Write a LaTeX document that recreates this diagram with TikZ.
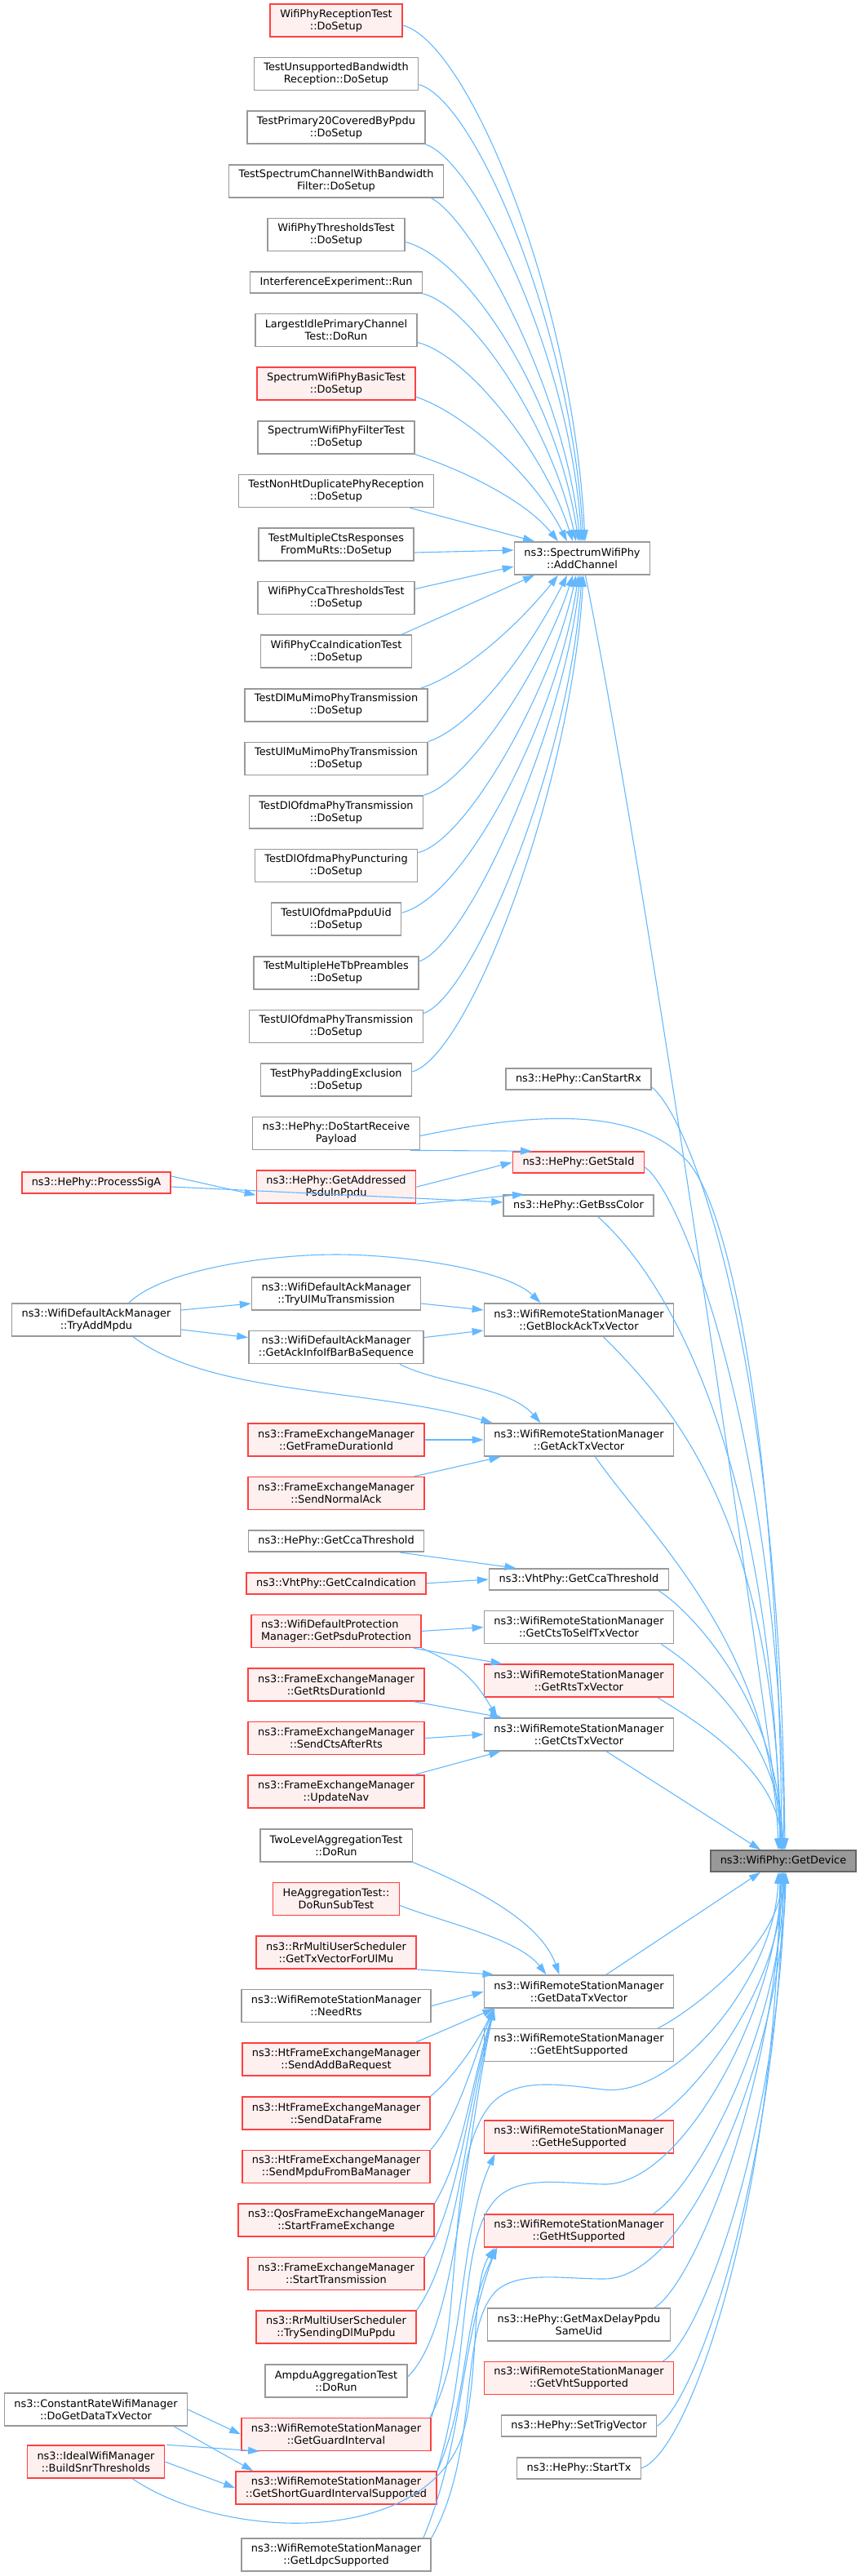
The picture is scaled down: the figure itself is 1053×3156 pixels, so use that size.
\documentclass[tikz,border=0pt]{standalone}
\usepackage{fontspec}
\setmainfont{DejaVu Sans}
\usepackage{tikz}
\usetikzlibrary{positioning}
\usetikzlibrary{arrows.meta}
\definecolor{callblue}{HTML}{63B8FF}
\definecolor{truncred}{HTML}{FF4040}
\definecolor{truncfill}{HTML}{FFF0F0}
\definecolor{boxgray}{HTML}{999999}
\definecolor{focusfill}{HTML}{999999}
\definecolor{focusline}{HTML}{666666}
\tikzstyle{fn} = [draw=boxgray, fill=white, rectangle, line width=1.6pt, align=center, inner xsep=12pt, inner ysep=2pt, minimum height=40pt, font=\fontsize{12.9pt}{15pt}\selectfont]
\tikzstyle{fnone} = [fn, minimum height=26pt]
\tikzstyle{fnred} = [fn, draw=truncred, fill=truncfill]
\tikzstyle{fnredone} = [fnred, minimum height=26pt]
\tikzstyle{fnfocus} = [fnone, draw=focusline, fill=focusfill]
\tikzstyle{calls} = [draw=callblue, line width=1.1pt, -{Triangle[length=14pt,width=9pt]}]

\begin{document}
\begin{tikzpicture}[x=1pt,y=-1pt]
    \useasboundingbox (0,0) rectangle (1053,3156);

    % tests calling AddChannel
    \node [fnred] at (412,25) (rxtest) {WifiPhyReceptionTest\\::DoSetup};
    \node [fn, below = 24pt of rxtest] (unsupbw) {TestUnsupportedBandwidth\\Reception::DoSetup};
    \node [fn, below = 24pt of unsupbw] (primary20) {TestPrimary20CoveredByPpdu\\::DoSetup};
    \node [fn, below = 24pt of primary20] (specchan) {TestSpectrumChannelWithBandwidth\\Filter::DoSetup};
    \node [fn, below = 24pt of specchan] (thresh) {WifiPhyThresholdsTest\\::DoSetup};
    \node [fnone, below = 24pt of thresh] (interf) {InterferenceExperiment::Run};
    \node [fn, below = 24pt of interf] (largest) {LargestIdlePrimaryChannel\\Test::DoRun};
    \node [fnred, below = 24pt of largest] (specbasic) {SpectrumWifiPhyBasicTest\\::DoSetup};
    \node [fn, below = 24pt of specbasic] (specfilter) {SpectrumWifiPhyFilterTest\\::DoSetup};
    \node [fn, below = 24pt of specfilter] (nonht) {TestNonHtDuplicatePhyReception\\::DoSetup};
    \node [fn, below = 24pt of nonht] (multicts) {TestMultipleCtsResponses\\FromMuRts::DoSetup};
    \node [fn, below = 24pt of multicts] (ccathresh) {WifiPhyCcaThresholdsTest\\::DoSetup};
    \node [fn, below = 24pt of ccathresh] (ccaind) {WifiPhyCcaIndicationTest\\::DoSetup};
    \node [fn, below = 24pt of ccaind] (dlmumimo) {TestDlMuMimoPhyTransmission\\::DoSetup};
    \node [fn, below = 24pt of dlmumimo] (ulmumimo) {TestUlMuMimoPhyTransmission\\::DoSetup};
    \node [fn, below = 24pt of ulmumimo] (dlofdmatx) {TestDlOfdmaPhyTransmission\\::DoSetup};
    \node [fn, below = 24pt of dlofdmatx] (dlpunct) {TestDlOfdmaPhyPuncturing\\::DoSetup};
    \node [fn, below = 24pt of dlpunct] (ppduuid) {TestUlOfdmaPpduUid\\::DoSetup};
    \node [fn, below = 24pt of ppduuid] (multihetb) {TestMultipleHeTbPreambles\\::DoSetup};
    \node [fn, below = 24pt of multihetb] (ulofdmatx) {TestUlOfdmaPhyTransmission\\::DoSetup};
    \node [fn, below = 24pt of ulofdmatx] (padding) {TestPhyPaddingExclusion\\::DoSetup};
    \node [fn, below = 24pt of padding] (dostartrx) {ns3::HePhy::DoStartReceive\\Payload};
    \node [fnred, below = 24pt of dostartrx] (getaddr) {ns3::HePhy::GetAddressed\\PsduInPpdu};

    \node [fn] at (412,1585) (tryulmu) {ns3::WifiDefaultAckManager\\::TryUlMuTransmission};
    \node [fn, below = 24pt of tryulmu] (getackinfo) {ns3::WifiDefaultAckManager\\::GetAckInfoIfBarBaSequence};
    \node [fnred] at (412,1764) (getframedur) {ns3::FrameExchangeManager\\::GetFrameDurationId};
    \node [fnred, below = 24pt of getframedur] (sendnormalack) {ns3::FrameExchangeManager\\::SendNormalAck};
    \node [fnone, below = 24pt of sendnormalack] (heccathresh) {ns3::HePhy::GetCcaThreshold};
    \node [fnredone, below = 24pt of heccathresh] (vhtccaind) {ns3::VhtPhy::GetCcaIndication};
    \node [fnred, align=left, below = 24pt of vhtccaind] (psduprot) {ns3::WifiDefaultProtection\\Manager::GetPsduProtection};
    \node [fnred, below = 24pt of psduprot] (rtsdur) {ns3::FrameExchangeManager\\::GetRtsDurationId};
    \node [fnred, below = 24pt of rtsdur] (sendcts) {ns3::FrameExchangeManager\\::SendCtsAfterRts};
    \node [fnred, below = 24pt of sendcts] (updatenav) {ns3::FrameExchangeManager\\::UpdateNav};
    \node [fn, below = 24pt of updatenav] (twolevel) {TwoLevelAggregationTest\\::DoRun};
    \node [fnred, below = 24pt of twolevel] (heagg) {HeAggregationTest::\\DoRunSubTest};
    \node [fnred, below = 24pt of heagg] (ulmu) {ns3::RrMultiUserScheduler\\::GetTxVectorForUlMu};
    \node [fn, below = 24pt of ulmu] (needrts) {ns3::WifiRemoteStationManager\\::NeedRts};
    \node [fnred, below = 24pt of needrts] (addba) {ns3::HtFrameExchangeManager\\::SendAddBaRequest};
    \node [fnred, below = 24pt of addba] (senddata) {ns3::HtFrameExchangeManager\\::SendDataFrame};
    \node [fnred, below = 24pt of senddata] (sendmpdu) {ns3::HtFrameExchangeManager\\::SendMpduFromBaManager};
    \node [fnred, below = 24pt of sendmpdu] (startfx) {ns3::QosFrameExchangeManager\\::StartFrameExchange};
    \node [fnred, below = 24pt of startfx] (starttrans) {ns3::FrameExchangeManager\\::StartTransmission};
    \node [fnred, below = 24pt of starttrans] (trysend) {ns3::RrMultiUserScheduler\\::TrySendingDlMuPpdu};
    \node [fn, below = 24pt of trysend] (ampdu) {AmpduAggregationTest\\::DoRun};
    \node [fnred, below = 24pt of ampdu] (guardint) {ns3::WifiRemoteStationManager\\::GetGuardInterval};
    \node [fnred, below = 24pt of guardint] (shortgi) {ns3::WifiRemoteStationManager\\::GetShortGuardIntervalSupported};
    \node [fn] at (412,3130) (ldpc) {ns3::WifiRemoteStationManager\\::GetLdpcSupported};

    % middle column
    \node [fn] at (713.5,684) (addchannel) {ns3::SpectrumWifiPhy\\::AddChannel};
    \node [fnone] at (709,1322) (canstartrx) {ns3::HePhy::CanStartRx};
    \node [fnredone] at (709,1424) (getstaid) {ns3::HePhy::GetStaId};
    \node [fnone] at (709,1477) (getbss) {ns3::HePhy::GetBssColor};
    \node [fn] at (709.5,1617) (blockack) {ns3::WifiRemoteStationManager\\::GetBlockAckTxVector};
    \node [fn] at (709.5,1764) (acktx) {ns3::WifiRemoteStationManager\\::GetAckTxVector};
    \node [fnone] at (709.5,1935) (vhtcca) {ns3::VhtPhy::GetCcaThreshold};
    \node [fn, below = 24pt of vhtcca] (ctstoself) {ns3::WifiRemoteStationManager\\::GetCtsToSelfTxVector};
    \node [fnred, below = 24pt of ctstoself] (rtstx) {ns3::WifiRemoteStationManager\\::GetRtsTxVector};
    \node [fn, below = 24pt of rtstx] (ctstx) {ns3::WifiRemoteStationManager\\::GetCtsTxVector};
    \node [fn] at (709.5,2440) (datatx) {ns3::WifiRemoteStationManager\\::GetDataTxVector};
    \node [fn, below = 24pt of datatx] (eht) {ns3::WifiRemoteStationManager\\::GetEhtSupported};
    \node [fnred] at (709.5,2618) (he) {ns3::WifiRemoteStationManager\\::GetHeSupported};
    \node [fnred] at (709.5,2733) (ht) {ns3::WifiRemoteStationManager\\::GetHtSupported};
    \node [fn] at (709.5,2848) (maxdelay) {ns3::HePhy::GetMaxDelayPpdu\\SameUid};
    \node [fnred, below = 24pt of maxdelay] (vht) {ns3::WifiRemoteStationManager\\::GetVhtSupported};
    \node [fnone, below = 24pt of vht] (settrig) {ns3::HePhy::SetTrigVector};
    \node [fnone, below = 24pt of settrig] (starttx) {ns3::HePhy::StartTx};

    % left column
    \node [fnredone] at (118,1449) (processsiga) {ns3::HePhy::ProcessSigA};
    \node [fn] at (118,1617) (tryadd) {ns3::WifiDefaultAckManager\\::TryAddMpdu};
    \node [fn] at (117.5,2952) (dogetdata) {ns3::ConstantRateWifiManager\\::DoGetDataTxVector};
    \node [fnred] at (117.5,3016) (buildsnr) {ns3::IdealWifiManager\\::BuildSnrThresholds};

    \node [fnfocus] at (960,2280) (getdevice) {ns3::WifiPhy::GetDevice};

    % connections into AddChannel
    \draw [calls] ([yshift=-6pt]rxtest.east) .. controls +(80,20) and +(-15,-300) .. ([xshift=3.5pt]addchannel.north);
    \draw [calls] ([yshift=-13pt]unsupbw.east) .. controls +(70,20) and +(-15,-260) .. ([xshift=1.5pt]addchannel.north);
    \draw [calls] (primary20.south east) .. controls +(60,20) and +(-15,-230) .. ([xshift=-0.5pt]addchannel.north);
    \draw [calls] ([xshift=-16pt]specchan.south east) .. controls +(50,25) and +(-20,-190) .. ([xshift=-2.5pt]addchannel.north);
    \draw [calls] ([yshift=-9pt]thresh.east) .. controls +(80,20) and +(-25,-170) .. ([xshift=-4.5pt]addchannel.north);
    \draw [calls] (interf.south east) .. controls +(60,15) and +(-30,-140) .. ([xshift=-7.5pt]addchannel.north);
    \draw [calls] ([yshift=-15pt]largest.east) .. controls +(60,15) and +(-35,-110) .. ([xshift=-11.5pt]addchannel.north);
    \draw [calls] ([yshift=-16pt]specbasic.east) .. controls +(60,20) and +(-40,-80) .. ([xshift=-18.5pt]addchannel.north);
    \draw [calls] (specfilter.south east) .. controls +(60,20) and +(-40,-50) .. ([xshift=-29.5pt]addchannel.north);
    \draw [calls] ([xshift=-30pt]nonht.south east) -- ([xshift=-58.5pt]addchannel.north);
    \draw [calls] ([yshift=-10pt]multicts.east) -- ([yshift=10pt]addchannel.west);
    \draw [calls] ([yshift=11pt]ccathresh.east) -- ([yshift=-10pt]addchannel.west);
    \draw [calls] ([xshift=-13pt]ccaind.north east) -- ([xshift=-58.5pt]addchannel.south);
    \draw [calls] ([xshift=-9pt]dlmumimo.north east) .. controls +(60,-20) and +(-40,50) .. ([xshift=-29.5pt]addchannel.south);
    \draw [calls] (ulmumimo.north east) .. controls +(60,-20) and +(-40,80) .. ([xshift=-18.5pt]addchannel.south);
    \draw [calls] (dlofdmatx.north east) .. controls +(55,-15) and +(-35,110) .. ([xshift=-11.5pt]addchannel.south);
    \draw [calls] ([yshift=16pt]dlpunct.east) .. controls +(60,-15) and +(-30,140) .. ([xshift=-7.5pt]addchannel.south);
    \draw [calls] ([yshift=8pt]ppduuid.east) .. controls +(80,-20) and +(-25,170) .. ([xshift=-4.5pt]addchannel.south);
    \draw [calls] ([yshift=14pt]multihetb.east) .. controls +(60,-20) and +(-20,190) .. ([xshift=-2.5pt]addchannel.south);
    \draw [calls] ([yshift=16pt]ulofdmatx.east) .. controls +(60,-20) and +(-15,230) .. ([xshift=-0.5pt]addchannel.south);
    \draw [calls] ([yshift=10pt]padding.east) .. controls +(70,-20) and +(-15,260) .. ([xshift=1.5pt]addchannel.south);

    % HePhy calls
    \draw [calls] ([xshift=-12pt]dostartrx.south east) -- ([xshift=-57pt]getstaid.north);
    \draw [calls] (getaddr.east) -- (getstaid.west);
    \draw [calls] (getaddr.south east) -- ([xshift=-67pt]getbss.north);
    \draw [calls] ([yshift=8pt]processsiga.east) -- ([yshift=-10pt]getaddr.west);
    \draw [calls] ([yshift=-5pt]processsiga.east) -- ([yshift=4pt]getbss.west);

    % ack manager calls
    \draw [calls] ([yshift=12pt]tryadd.east) -- ([yshift=-12pt]tryulmu.west);
    \draw [calls] ([yshift=-12pt]tryadd.east) -- ([yshift=12pt]getackinfo.west);
    \draw [calls] ([xshift=40pt]tryadd.north) .. controls (200,1555) and (330,1537) .. (412,1537) .. controls (494,1537) and (620,1555) .. ([xshift=-47pt]blockack.north);
    \draw [calls] ([yshift=-12pt]tryulmu.east) -- ([yshift=12pt]blockack.west);
    \draw [calls] ([yshift=12pt]getackinfo.east) -- ([yshift=-13pt]blockack.west);
    \draw [calls] ([xshift=78pt]getackinfo.south) .. controls +(50,25) and +(-40,-45) .. ([xshift=-47pt]acktx.north);
    \draw [calls] ([xshift=45pt]tryadd.south) .. controls (260,1710) and (450,1700) .. ([xshift=-106pt]acktx.north);
    \draw [calls] (getframedur.east) -- (acktx.west);
    \draw [calls] ([xshift=-13pt]sendnormalack.north east) -- ([xshift=-96pt]acktx.south);

    % cca and protection calls
    \draw [calls] ([xshift=78pt]heccathresh.south) -- ([xshift=-77pt]vhtcca.north);
    \draw [calls] (vhtccaind.east) -- (vhtcca.west);
    \draw [calls] (psduprot.east) -- (ctstoself.west);
    \draw [calls] ([xshift=-10pt]psduprot.south east) -- ([xshift=-94pt]rtstx.north);
    \draw [calls] (psduprot.south east) .. controls +(45,20) and +(-30,-50) .. ([xshift=-100pt]ctstx.north);
    \draw [calls] ([xshift=-13pt]rtsdur.south east) -- ([xshift=-95pt]ctstx.north);
    \draw [calls] (sendcts.east) -- (ctstx.west);
    \draw [calls] ([xshift=-13pt]updatenav.north east) -- ([xshift=-96pt]ctstx.south);

    % GetDataTxVector callers
    \draw [calls] (twolevel.south east) .. controls +(60,25) and +(-25,-70) .. ([xshift=-24pt]datatx.north);
    \draw [calls] ([yshift=-8pt]heagg.east) .. controls +(50,20) and +(-35,-45) .. ([xshift=-40pt]datatx.north);
    \draw [calls] (ulmu.south east) -- ([xshift=-104pt]datatx.north);
    \draw [calls] (needrts.east) -- (datatx.west);
    \draw [calls] ([xshift=-19pt]addba.north east) -- ([xshift=-104pt]datatx.south);
    \draw [calls] (senddata.north east) .. controls +(30,-25) and +(-20,40) .. ([xshift=-104pt]datatx.south);
    \draw [calls] (sendmpdu.north east) .. controls +(35,-40) and +(-25,60) .. ([xshift=-104pt]datatx.south);
    \draw [calls] (startfx.north east) .. controls +(35,-60) and +(-30,100) .. ([xshift=-104pt]datatx.south);
    \draw [calls] (starttrans.north east) .. controls +(40,-60) and +(-35,130) .. ([xshift=-104pt]datatx.south);
    \draw [calls] (trysend.north east) .. controls +(50,-70) and +(-38,160) .. ([xshift=-104pt]datatx.south);
    \draw [calls] ([yshift=5pt]ampdu.east) .. controls +(60,-60) and +(-40,190) .. ([xshift=-104pt]datatx.south);

    % guard interval and capability calls
    \draw [calls] (dogetdata.east) -- (guardint.west);
    \draw [calls] ([xshift=-17pt]dogetdata.south east) -- ([xshift=22pt]shortgi.north west);
    \draw [calls] ([xshift=2pt]buildsnr.north east) -- ([xshift=23pt]guardint.south west);
    \draw [calls] (buildsnr.east) -- (shortgi.west);
    \draw [calls] ([xshift=45pt]buildsnr.south) .. controls (270,3110) and (500,3120) .. (560,3000) .. controls (590,2940) and (575,2800) .. ([xshift=-103pt]ht.south);
    \draw [calls] ([xshift=-2pt]guardint.north east) .. controls +(45,-80) and +(-45,100) .. ([xshift=-103pt]he.south);
    \draw [calls] (shortgi.north east) .. controls +(40,-90) and +(-45,90) .. ([xshift=-100pt]ht.south);
    \draw [calls] ([xshift=-10pt]ldpc.north east) .. controls +(50,-120) and +(-45,120) .. ([xshift=-101pt]ht.south);

    % connections into GetDevice
    \draw [calls] ([xshift=4pt]addchannel.south) .. controls +(80,400) and +(-40,-300) .. (getdevice.north);
    \draw [calls] ([yshift=-10pt]canstartrx.east) .. controls +(50,40) and +(-5,-600) .. ([xshift=2pt]getdevice.north);
    \draw [calls] ([yshift=-3pt]dostartrx.east) .. controls (700,1353) and (790,1370) .. (840,1420) .. controls (900,1480) and (955,1800) .. ([xshift=-2pt]getdevice.north);
    \draw [calls] ([yshift=-6pt]getstaid.east) .. controls +(45,30) and +(-5,-500) .. ([xshift=1pt]getdevice.north);
    \draw [calls] ([xshift=24pt]getbss.south) .. controls +(100,90) and +(-8,-450) .. ([xshift=-4pt]getdevice.north);
    \draw [calls] ([xshift=30pt]blockack.south) .. controls +(90,90) and +(-8,-400) .. ([xshift=-3pt]getdevice.north);
    \draw [calls] ([xshift=20pt]acktx.south) .. controls +(70,100) and +(-8,-250) .. ([xshift=-6pt]getdevice.north);
    \draw [calls] ([xshift=-13pt]vhtcca.south east) .. controls +(40,25) and +(-5,-180) .. ([xshift=-1pt]getdevice.north);
    \draw [calls] ([xshift=-16pt]ctstoself.south east) .. controls +(40,25) and +(-5,-140) .. (getdevice.north);
    \draw [calls] ([xshift=-20pt]rtstx.south east) .. controls +(40,25) and +(-5,-100) .. ([xshift=-2pt]getdevice.north);
    \draw [calls] ([xshift=33.5pt]ctstx.south) -- ([xshift=-28pt]getdevice.north);

    \draw [calls] ([xshift=33.5pt]datatx.north) -- ([xshift=-28pt]getdevice.south);
    \draw [calls] ([xshift=-20pt]eht.north east) .. controls +(40,-20) and +(-5,90) .. ([xshift=-1pt]getdevice.south);
    \draw [calls] ([xshift=-26pt]he.north east) .. controls +(45,-25) and +(-5,150) .. (getdevice.south);
    \draw [calls] ([xshift=-26pt]ht.north east) .. controls +(50,-30) and +(-5,200) .. ([xshift=1pt]getdevice.south);
    \draw [calls] ([xshift=-20pt]maxdelay.north east) .. controls +(50,-30) and +(-5,250) .. ([xshift=-2pt]getdevice.south);
    \draw [calls] ([xshift=-14pt]vht.north east) .. controls +(50,-30) and +(-5,300) .. ([xshift=2pt]getdevice.south);
    \draw [calls] (settrig.east) .. controls +(50,-30) and +(-5,350) .. (getdevice.south);
    \draw [calls] (starttx.east) .. controls +(60,-20) and +(-5,400) .. ([xshift=-4pt]getdevice.south);
    \draw [calls] (guardint.north east) .. controls (570,2820) and (545,2650) .. (600,2580) .. controls (630,2545) and (680,2553) .. (740,2560) .. controls (830,2570) and (950,2420) .. ([xshift=-6pt]getdevice.south);
    \draw [calls] (shortgi.north east) .. controls (580,2880) and (560,2740) .. (610,2692) .. controls (640,2665) and (690,2675) .. (740,2676) .. controls (840,2678) and (955,2450) .. ([xshift=-3pt]getdevice.south);
    \draw [calls] (ldpc.north east) .. controls (590,3000) and (560,2850) .. (610,2805) .. controls (640,2782) and (690,2792) .. (740,2792) .. controls (850,2792) and (960,2500) .. ([xshift=3pt]getdevice.south);
\end{tikzpicture}
\end{document}
